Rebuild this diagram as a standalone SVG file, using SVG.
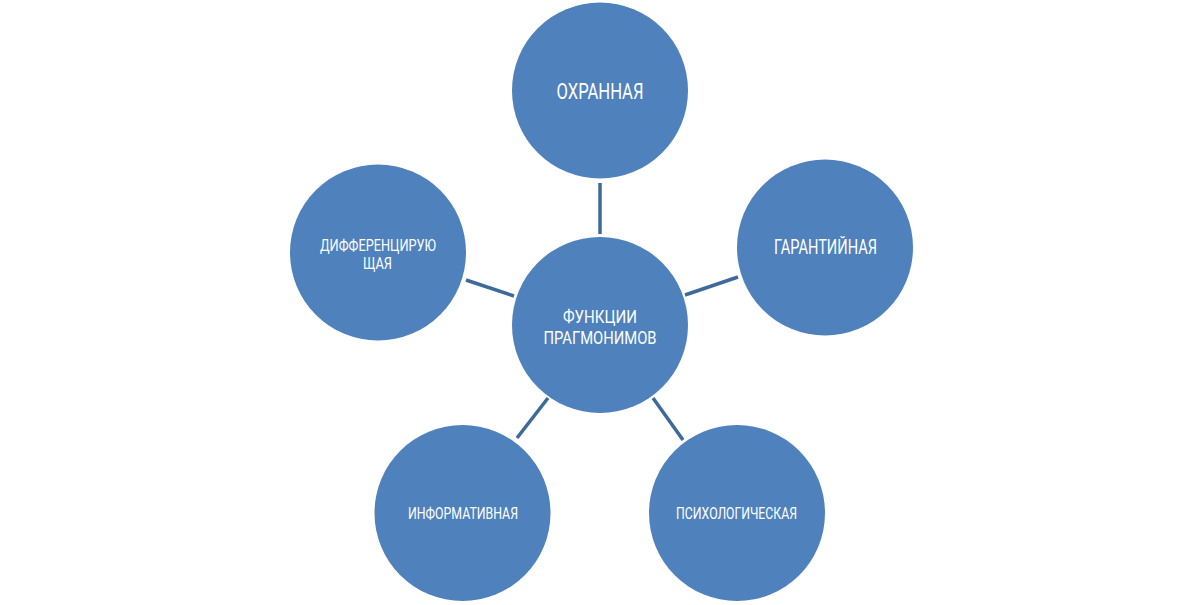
<svg xmlns="http://www.w3.org/2000/svg" width="1200" height="605" viewBox="0 0 1200 605">
<style>
.n{fill:#4F81BD;}
.t{fill:#FFFFFF;font-family:Roboto,"Liberation Sans",sans-serif;text-anchor:middle;}
.c{stroke:#3E6A9B;stroke-width:3.5;fill:none;}
</style>
<rect width="1200" height="605" fill="#FFFFFF"/>
<g id="connectors">
<line class="c" x1="600" y1="183" x2="600" y2="234"/>
<line class="c" x1="685" y1="295" x2="738" y2="277"/>
<line class="c" x1="466" y1="280" x2="514" y2="296"/>
<line class="c" x1="548" y1="398" x2="517" y2="438"/>
<line class="c" x1="653" y1="398" x2="683" y2="440"/>
</g>
<g id="center">
<circle class="n" cx="600" cy="325" r="88"/>
<text class="t" font-size="18.5" x="600" y="322.5" textLength="74" lengthAdjust="spacingAndGlyphs">ФУНКЦИИ</text>
<text class="t" font-size="18.5" x="600" y="344" textLength="113" lengthAdjust="spacingAndGlyphs">ПРАГМОНИМОВ</text>
</g>
<g id="ohrannaya">
<circle class="n" cx="600" cy="90.5" r="88"/>
<text class="t" font-size="22" x="600" y="99" textLength="87" lengthAdjust="spacingAndGlyphs">ОХРАННАЯ</text>
</g>
<g id="garantiynaya">
<circle class="n" cx="825" cy="247.5" r="88"/>
<text class="t" font-size="19.5" x="825.5" y="254" textLength="103" lengthAdjust="spacingAndGlyphs">ГАРАНТИЙНАЯ</text>
</g>
<g id="differenciruyushchaya">
<circle class="n" cx="378" cy="252.5" r="88"/>
<text class="t" font-size="16.5" x="378" y="250.5" textLength="116" lengthAdjust="spacingAndGlyphs">ДИФФЕРЕНЦИРУЮ</text>
<text class="t" font-size="16.5" x="377.5" y="268.5" textLength="29" lengthAdjust="spacingAndGlyphs">ЩАЯ</text>
</g>
<g id="informativnaya">
<circle class="n" cx="462.5" cy="513" r="88"/>
<text class="t" font-size="17" x="463" y="519" textLength="110" lengthAdjust="spacingAndGlyphs">ИНФОРМАТИВНАЯ</text>
</g>
<g id="psihologicheskaya">
<circle class="n" cx="737" cy="513" r="88"/>
<text class="t" font-size="17" x="736.5" y="519" textLength="121" lengthAdjust="spacingAndGlyphs">ПСИХОЛОГИЧЕСКАЯ</text>
</g>
</svg>
